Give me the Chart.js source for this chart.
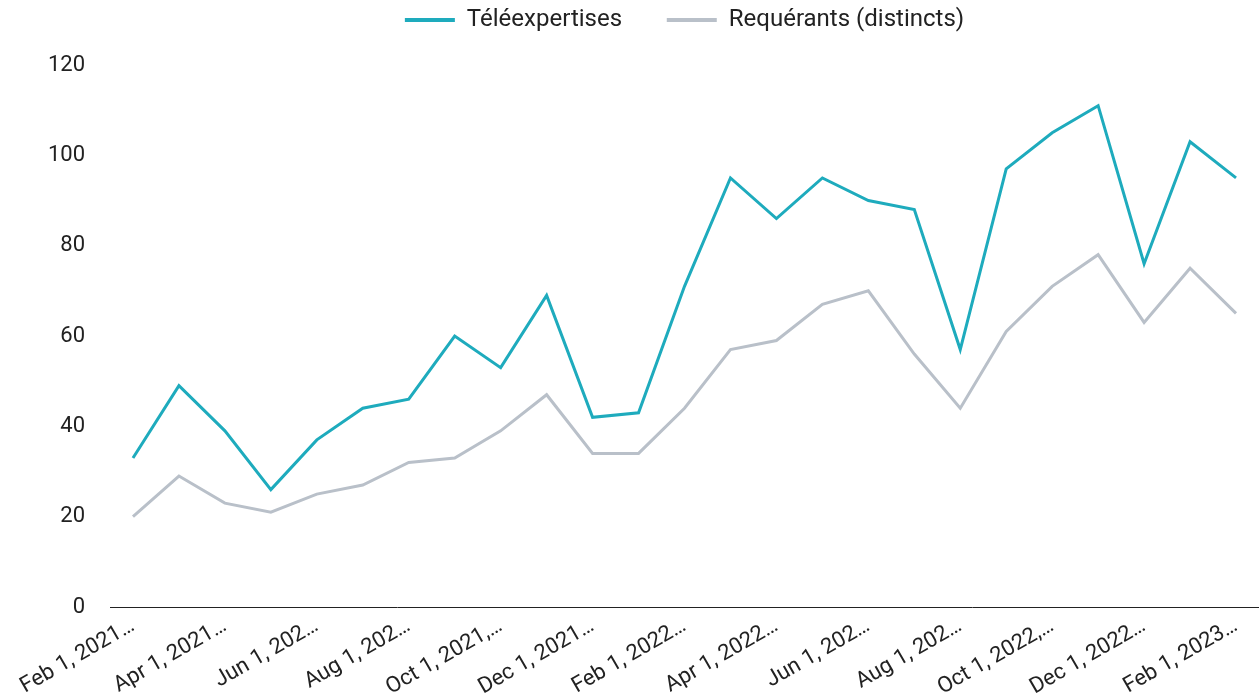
<!DOCTYPE html>
<html>
<head>
<meta charset="utf-8">
<script src="https://cdn.jsdelivr.net/npm/chart.js@4"></script>
<style>
  html, body { margin: 0; padding: 0; background: #fff; }
  #wrap { width: 1259px; height: 700px; position: relative; }
</style>
</head>
<body>
<div id="wrap"><canvas id="lineChart"></canvas></div>
<script>
// Monthly data, Feb 2021 -> Feb 2023
const months = [
    'Feb 1, 2021', 'Mar 1, 2021', 'Apr 1, 2021', 'May 1, 2021', 'Jun 1, 2021',
    'Jul 1, 2021', 'Aug 1, 2021', 'Sep 1, 2021', 'Oct 1, 2021', 'Nov 1, 2021',
    'Dec 1, 2021', 'Jan 1, 2022', 'Feb 1, 2022', 'Mar 1, 2022', 'Apr 1, 2022',
    'May 1, 2022', 'Jun 1, 2022', 'Jul 1, 2022', 'Aug 1, 2022', 'Sep 1, 2022',
    'Oct 1, 2022', 'Nov 1, 2022', 'Dec 1, 2022', 'Jan 1, 2023', 'Feb 1, 2023'
];

// truncated labels shown under every other month
const tickLabels = [
    'Feb 1, 2021…', 'Apr 1, 2021…', 'Jun 1, 202…', 'Aug 1, 202…', 'Oct 1, 2021,…',
    'Dec 1, 2021…', 'Feb 1, 2022…', 'Apr 1, 2022…', 'Jun 1, 202…', 'Aug 1, 202…',
    'Oct 1, 2022,…', 'Dec 1, 2022…', 'Feb 1, 2023…'
];

const teleexpertises = [33, 49, 39, 26, 37, 44, 46, 60, 53, 69, 42, 43, 71, 95, 86, 95, 90, 88, 57, 97, 105, 111, 76, 103, 95];
const requerants = [20, 29, 23, 21, 25, 27, 32, 33, 39, 47, 34, 34, 44, 57, 59, 67, 70, 56, 44, 61, 71, 78, 63, 75, 65];

const yTicks = [0, 20, 40, 60, 80, 100, 120];

const teal = '#1eabbd';
const grey = '#b9c0c9';

Chart.defaults.font.family = 'Roboto, sans-serif';
Chart.defaults.color = '#222';

// make the legend block a fixed height so the plot starts lower
const legendHeight = {
    id: 'legendHeight',
    afterInit(chart) {
        const legend = chart.legend;
        const origFit = legend.fit;
        legend.fit = function() {
            origFit.call(this);
            this.height = 65;
        };
    }
};

const ctx = document.getElementById('lineChart').getContext('2d');
const chart = new Chart(ctx, {
    type: 'line',
    data: {
        labels: months,
        datasets: [
            {
                label: 'Téléexpertises',
                data: teleexpertises,
                borderColor: teal,
                backgroundColor: teal,
                borderWidth: 3,
                pointRadius: 0,
                tension: 0
            },
            {
                label: 'Requérants (distincts)',
                data: requerants,
                borderColor: grey,
                backgroundColor: grey,
                borderWidth: 3,
                pointRadius: 0,
                tension: 0
            }
        ]
    },
    options: {
        responsive: true,
        maintainAspectRatio: false,
        animation: false,
        layout: { padding: 0 },
        plugins: {
            legend: {
                position: 'top',
                fullSize: false,
                labels: {
                    boxWidth: 50,
                    boxHeight: 4,
                    padding: 8,
                    color: '#222',
                    font: { size: 24 },
                    generateLabels: function(chart) {
                        const items = Chart.defaults.plugins.legend.labels.generateLabels(chart);
                        items.forEach((item, i) => {
                            item.lineWidth = 0;
                            // wider gap between the two entries
                            if (i === 0) item.text = item.text + '\u2003\u2002';
                        });
                        return items;
                    }
                }
            },
            tooltip: { enabled: false }
        },
        scales: {
            x: {
                offset: true,
                grid: { display: false, drawTicks: false },
                border: { display: true, color: '#222', width: 1 },
                afterFit: function(axis) {
                    axis.height = 93;
                },
                ticks: {
                    autoSkip: false,
                    maxRotation: 30,
                    minRotation: 30,
                    padding: 6,
                    font: { size: 22 },
                    color: '#222',
                    callback: function(value, index) {
                        return index % 2 === 0 ? tickLabels[index / 2] : '';
                    }
                }
            },
            y: {
                min: 0,
                max: 120,
                afterBuildTicks: function(axis) {
                    axis.ticks = yTicks.map(v => ({ value: v }));
                },
                afterFit: function(axis) {
                    axis.width = 110;
                },
                grid: { display: false, drawTicks: false },
                border: { display: false },
                ticks: {
                    padding: 25,
                    font: { size: 22 },
                    color: '#222'
                }
            }
        }
    },
    plugins: [legendHeight]
});
</script>
</body>
</html>
